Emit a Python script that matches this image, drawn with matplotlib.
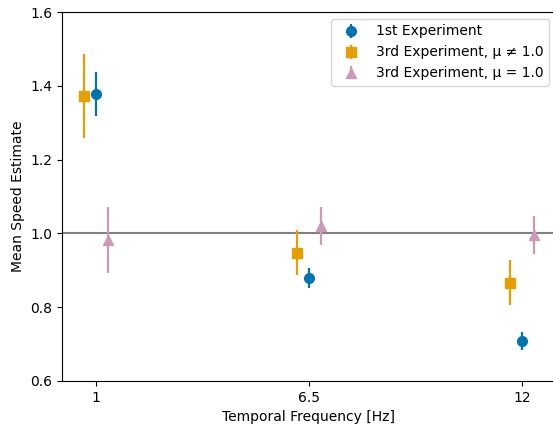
import matplotlib
matplotlib.use("Agg")
import matplotlib.pyplot as plt
import numpy as np

categories = ["1", "6.5", "12"]
exp1_mean = [1.378, 0.879, 0.709]
exp1_err = [0.060, 0.027, 0.024]
exp3_neq_mean = [1.372, 0.948, 0.866]
exp3_neq_err = [0.114, 0.061, 0.061]
exp3_eq_mean = [0.982, 1.020, 0.995]
exp3_eq_err = [0.090, 0.052, 0.052]

fig = plt.figure(figsize=(5.53, 4.28), dpi=100)
ax = fig.add_axes([62/553, 1-381/428, 494/553, (381-12)/428])

x = np.arange(len(categories))
off = 0.056
ax.axhline(1.0, color="#808080", lw=1.5, zorder=1)
ax.errorbar(x, exp1_mean, yerr=exp1_err, fmt="o", color="#0173b2", ms=7, elinewidth=1.6,
            label="1st Experiment", zorder=3)
ax.errorbar(x - off, exp3_neq_mean, yerr=exp3_neq_err, fmt="s", color="#e69f00", ms=7, elinewidth=1.6,
            label="3rd Experiment, μ ≠ 1.0", zorder=3)
ax.errorbar(x + off, exp3_eq_mean, yerr=exp3_eq_err, fmt="^", color="#cc99b6", ms=7, elinewidth=1.6,
            label="3rd Experiment, μ = 1.0", zorder=3)

ax.set_xticks(x)
ax.set_xticklabels(categories)
ax.set_xlim(-0.16, 2.16)
ax.set_ylim(0.6, 1.6)
ax.set_yticks([0.6, 0.8, 1.0, 1.2, 1.4, 1.6])
ax.set_xlabel("Temporal Frequency [Hz]")
ax.set_ylabel("Mean Speed Estimate")
ax.legend(loc="upper right")
fig.savefig("out.png", dpi=100)
